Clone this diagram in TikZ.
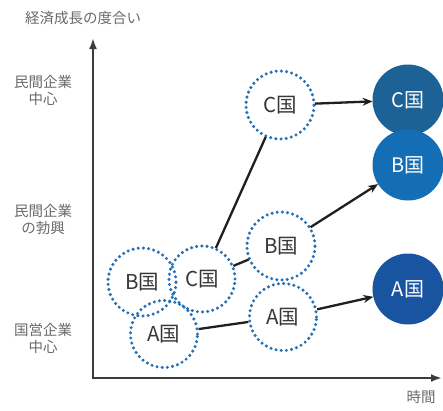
\documentclass[tikz,border=0pt]{standalone}
\usepackage{fontspec}
\newfontfamily\cjk{Noto Sans CJK JP}
\usetikzlibrary{arrows.meta}
\definecolor{dotblue}{RGB}{40,112,180}
\definecolor{solC}{RGB}{28,98,150}
\definecolor{solB}{RGB}{20,110,182}
\definecolor{solA}{RGB}{24,84,160}
\definecolor{lblgray}{RGB}{105,105,105}
\definecolor{txtgray}{RGB}{55,55,55}
\definecolor{axisgray}{RGB}{60,60,60}
\begin{document}
\begin{tikzpicture}[x=1pt,y=-1pt,
  ring/.style={circle,minimum size=#1,inner sep=0pt,outer sep=0pt,fill=white},
  dotring/.style={draw=dotblue,line width=3.4pt,line cap=round,dash pattern=on 0pt off 5.2pt},
  ringtxt/.style={text=txtgray,font=\cjk\fontsize{20.5}{22}\selectfont},
  solidc/.style={circle,minimum size=71pt,inner sep=0pt,outer sep=0pt,fill=#1,text=white,
    font=\cjk\fontsize{20}{22}\selectfont},
  conn/.style={draw=black!88,line width=2.3pt},
  arr/.style={conn,-{Stealth[length=10pt,width=8pt]}},
  axislbl/.style={text=lblgray,align=center,font=\cjk\fontsize{14.5}{17}\selectfont}]
\useasboundingbox (0,0) rectangle (443,410);
% axes
\coordinate (o) at (93,378);
\coordinate (ytop) at (93,38);
\coordinate (xend) at (442,378);
\draw[draw=axisgray,line width=2.5pt,{Latex[length=11pt,width=8pt]}-{Latex[length=11pt,width=8pt]}] (ytop) |- (xend);
% labels
\node[axislbl] (title) at (83,18) {経済成長の度合い};
\node[axislbl] (l1) at (43,90) {民間企業\\中心};
\node[axislbl] (l2) at (43,219) {民間企業\\の勃興};
\node[axislbl] (l3) at (43,338) {国営企業\\中心};
\node[axislbl] (time) at (421,397) {時間};
% dotted circles (fills)
\node[ring=70pt] (al) at (164,334) {};
\node[ring=70pt] (bl) at (142,282) {};
\node[ring=68pt] (cm) at (202,279) {};
\node[ring=70pt] (ct) at (280,105) {};
\node[ring=70pt] (bm) at (281,246) {};
\node[ring=70pt] (am) at (283,317) {};
% dotted rings
\foreach \n/\r in {al/33.5,bl/34,cm/33,ct/34,bm/34,am/33.5}{
  \draw[dotring] (\n.center) circle[radius=\r pt];
}
% texts in dotted circles
\node[ringtxt] (tal) at (al.center) {A国};
\node[ringtxt] (tbl) at (bl.center) {B国};
\node[ringtxt] (tcm) at (cm.center) {C国};
\node[ringtxt] (tct) at (ct.center) {C国};
\node[ringtxt] (tbm) at (bm.center) {B国};
\node[ringtxt] (tam) at (am.center) {A国};
% solid circles
\node[solidc=solC] (cs) at (408,100) {C国};
\node[solidc=solB] (bs) at (408,165) {B国};
\node[solidc=solA] (as) at (408,289) {A国};
% connectors
\draw[conn] (cm) -- (ct);
\draw[conn] (cm) -- (bm);
\draw[conn] (al) -- (am);
\draw[arr] (ct) -- (cs);
\draw[arr] (bm) -- (bs);
\draw[arr] (am) -- (as);
\end{tikzpicture}
\end{document}
